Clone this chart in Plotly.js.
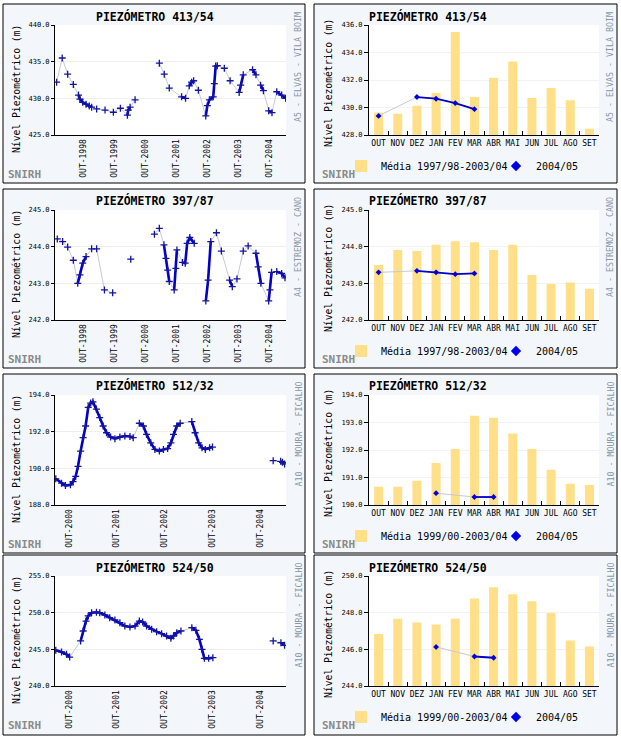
<!DOCTYPE html>
<html><head><meta charset="utf-8">
<script src="https://cdn.plot.ly/plotly-3.0.1.min.js"></script>
<style>body{margin:0;background:#fff}#chart{width:621px;height:737px}</style>
</head><body><div id="chart"></div>
<script>
// ---------------- DATA ----------------
const months = ['OUT','NOV','DEZ','JAN','FEV','MAR','ABR','MAI','JUN','JUL','AGO','SET'];

// Panel 1: PIEZÓMETRO 413/54 (A5 - ELVAS - VILA BOIM)
const p1Title = 'PIEZÓMETRO 413/54';
const p1Site = 'A5 - ELVAS - VILA BOIM';
const p1Years = [1998,1999,2000,2001,2002,2003,2004];
const p1Dates = ['1997-11-20','1998-01-25','1998-03-30','1998-06-05','1998-08-05','1998-08-22','1998-09-24','1998-11-02','1998-12-10','1999-01-07','1999-03-07','1999-06-14','1999-09-20','1999-12-12','2000-03-03','2000-03-14','2000-04-04','2000-06-02','2001-03-15','2001-05-12','2001-07-10','2001-12-02','2002-01-18','2002-03-03','2002-03-31','2002-04-23','2002-06-18','2002-09-13','2002-10-02','2002-10-26','2002-12-10','2002-12-23','2003-01-08','2003-01-27','2003-04-20','2003-06-27','2003-10-12','2003-10-30','2003-11-29','2004-03-18','2004-04-27','2004-06-21','2004-07-24','2004-09-24','2004-11-02','2004-12-28','2005-02-24','2005-04-12'];
const p1Levels = [432.2,435.5,433.3,431.9,430.45,429.9,429.45,429.2,428.95,428.8,428.55,428.4,428.1,428.65,427.7,428.4,428.8,429.8,434.8,433.3,431.4,430.2,430.0,431.7,432.2,432.4,431.1,427.6,429.0,429.8,430.2,432.0,434.4,434.45,434.1,432.4,430.8,431.8,433.2,433.9,433.2,431.8,431.05,428.3,428.05,430.9,430.45,430.0];
// link to previous record: 'd' continuous record, 's' sparse reading, '' gap
const p1Links = ['','s','s','s','s','d','d','d','d','d','s','s','s','s','s','d','d','s','','s','s','s','d','s','d','d','s','s','d','d','d','d','d','d','s','s','s','d','d','s','d','s','d','s','d','s','d','d'];

// Panel 2: PIEZÓMETRO 397/87 (A4 - ESTREMOZ - CANO)
const p2Title = 'PIEZÓMETRO 397/87';
const p2Site = 'A4 - ESTREMOZ - CANO';
const p2Years = [1998,1999,2000,2001,2002,2003,2004];
const p2Dates = ['1997-11-28','1998-01-30','1998-03-30','1998-06-05','1998-07-27','1998-08-22','1998-09-24','1998-11-02','1999-01-07','1999-03-07','1999-06-07','1999-09-12','2000-04-12','2001-01-16','2001-03-15','2001-05-08','2001-06-01','2001-06-21','2001-07-10','2001-09-06','2001-09-26','2001-10-08','2001-12-13','2002-01-14','2002-02-06','2002-03-09','2002-04-30','2002-09-14','2002-10-11','2002-11-11','2003-01-17','2003-03-16','2003-06-21','2003-07-23','2003-09-16','2003-11-29','2004-01-26','2004-04-27','2004-05-23','2004-06-24','2004-09-24','2004-10-09','2004-10-28','2004-12-28','2005-02-24','2005-04-04'];
const p2Levels = [244.21,244.14,243.99,243.63,243.0,243.23,243.55,243.73,243.94,243.94,242.82,242.74,243.66,244.34,244.5,244.05,243.68,243.36,243.05,242.82,243.41,243.91,243.57,243.55,244.09,244.25,244.09,242.52,243.09,244.14,244.38,243.88,243.09,242.91,243.12,243.88,244.02,243.82,243.45,243.0,242.52,242.82,243.3,243.32,243.27,243.15];
const p2Links = ['','s','s','s','s','d','d','d','s','s','s','s','','','s','s','d','d','d','s','d','d','s','d','d','d','d','','d','d','s','s','s','d','s','s','s','s','d','d','s','d','d','s','d','d'];

// Panel 3: PIEZÓMETRO 512/32 (A10 - MOURA - FICALHO)
const p3Title = 'PIEZÓMETRO 512/32';
const p3Site = 'A10 - MOURA - FICALHO';
const p3Years = [2000,2001,2002,2003,2004];
const p3Dates = ['2000-06-21','2000-08-04','2000-09-03','2000-10-11','2000-10-31','2000-11-20','2000-12-08','2000-12-28','2001-01-16','2001-02-04','2001-02-24','2001-03-15','2001-04-01','2001-04-28','2001-05-23','2001-06-18','2001-07-14','2001-08-14','2001-09-16','2001-10-24','2001-12-01','2002-01-09','2002-02-03','2002-03-22','2002-04-22','2002-05-16','2002-06-17','2002-07-19','2002-08-22','2002-09-22','2002-10-24','2002-11-18','2002-12-08','2003-01-02','2003-01-28','2003-04-27','2003-05-22','2003-06-18','2003-07-14','2003-08-08','2003-09-10','2003-10-02','2005-01-08','2005-03-06','2005-03-20','2005-04-05'];
const p3Levels = [189.43,189.19,189.06,189.10,189.28,189.56,190.11,190.94,191.67,192.31,193.32,193.56,193.63,193.23,192.77,192.31,191.94,191.71,191.62,191.71,191.76,191.74,191.67,192.46,192.31,191.85,191.39,191.03,190.94,191.03,191.08,191.39,191.85,192.31,192.46,192.55,191.94,191.39,191.12,191.03,191.12,191.16,190.42,190.38,190.33,190.24];
const p3Links = ['','d','d','d','d','d','d','d','d','d','d','d','d','d','d','d','d','d','d','d','d','d','d','s','d','d','d','d','d','d','d','d','d','d','d','s','d','d','d','d','d','d','','s','d','d'];

// Panel 4: PIEZÓMETRO 524/50 (A10 - MOURA - FICALHO)
const p4Title = 'PIEZÓMETRO 524/50';
const p4Site = 'A10 - MOURA - FICALHO';
const p4Years = [2000,2001,2002,2003,2004];
const p4Dates = ['2000-06-21','2000-08-04','2000-09-11','2000-10-05','2000-12-28','2001-01-16','2001-02-07','2001-02-24','2001-03-22','2001-04-28','2001-05-23','2001-07-01','2001-08-07','2001-09-16','2001-10-24','2001-12-01','2002-01-09','2002-02-17','2002-03-22','2002-04-16','2002-05-16','2002-06-24','2002-08-01','2002-09-08','2002-10-16','2002-11-18','2002-12-08','2003-01-02','2003-02-03','2003-04-27','2003-05-28','2003-06-24','2003-07-14','2003-08-01','2003-09-03','2003-10-05','2005-01-08','2005-03-08','2005-04-05'];
const p4Levels = [244.86,244.64,244.32,243.95,246.14,247.5,248.86,249.55,250.0,250.05,250.0,249.68,249.32,249.0,248.64,248.18,248.05,248.18,248.86,248.73,248.18,247.73,247.41,247.14,246.82,246.5,246.82,247.27,247.5,247.95,247.59,246.36,245.0,243.77,243.77,243.86,246.14,245.9,245.55];
const p4Links = ['','d','d','d','s','d','d','d','d','d','d','d','d','d','d','d','d','d','d','d','d','d','d','d','d','d','d','d','d','s','d','d','d','d','d','d','','s','d'];

// Monthly means (bars) and current year 2004/05
const r1MeanName = 'Média 1997/98-2003/04';
const r1Mean = [429.64,429.54,430.13,431.06,435.5,430.76,432.16,433.35,430.69,431.42,430.52,428.46];
const r1Months = ['OUT','DEZ','JAN','FEV','MAR'];
const r1Cur = [429.39,430.76,430.64,430.32,429.88];
const r1Links = ['','s','d','d','d'];

const r2MeanName = 'Média 1997/98-2003/04';
const r2Mean = [243.5,243.91,243.88,244.05,244.15,244.12,243.91,244.05,243.23,242.98,243.02,242.85];
const r2Months = ['OUT','DEZ','JAN','FEV','MAR'];
const r2Cur = [243.3,243.34,243.3,243.25,243.27];
const r2Links = ['','s','d','d','d'];

const r3MeanName = 'Média 1999/00-2003/04';
const r3Mean = [190.66,190.66,190.88,191.53,192.04,193.25,193.17,192.6,192.04,191.28,190.77,190.73];
const r3Months = ['JAN','MAR','ABR'];
const r3Cur = [190.43,190.29,190.29];
const r3Links = ['','s','d'];

const r4MeanName = 'Média 1999/00-2003/04';
const r4Mean = [246.84,247.67,247.47,247.36,247.67,248.77,249.38,249.01,248.62,247.98,246.48,246.15];
const r4Months = ['JAN','MAR','ABR'];
const r4Cur = [246.13,245.61,245.54];
const r4Links = ['','s','d'];

const curName = '2004/05';
const yTitle = 'Nível Piezométrico (m)';

// ---------------- BUILD ----------------
const FONT = 'DejaVu Sans Mono';
const W = 621, H = 737;
const X = p => p / W, Y = p => 1 - p / H;
const tops = [4, 189, 374, 555], bottoms = [183, 368, 553, 735];

const left = [
  {title:p1Title, site:p1Site, years:p1Years, d:p1Dates, v:p1Levels, l:p1Links, yr:[425,440], dt:5, xr:['1997-11-01','2005-04-16']},
  {title:p2Title, site:p2Site, years:p2Years, d:p2Dates, v:p2Levels, l:p2Links, yr:[242,245], dt:1, xr:['1997-11-01','2005-04-16']},
  {title:p3Title, site:p3Site, years:p3Years, d:p3Dates, v:p3Levels, l:p3Links, yr:[188,194], dt:2, xr:['2000-06-15','2005-04-16']},
  {title:p4Title, site:p4Site, years:p4Years, d:p4Dates, v:p4Levels, l:p4Links, yr:[240,255], dt:5, xr:['2000-06-15','2005-04-16']}
];
const right = [
  {title:p1Title, site:p1Site, meanName:r1MeanName, mean:r1Mean, m:r1Months, c:r1Cur, l:r1Links, yr:[428,436], dt:2},
  {title:p2Title, site:p2Site, meanName:r2MeanName, mean:r2Mean, m:r2Months, c:r2Cur, l:r2Links, yr:[242,245], dt:1},
  {title:p3Title, site:p3Site, meanName:r3MeanName, mean:r3Mean, m:r3Months, c:r3Cur, l:r3Links, yr:[190,194], dt:1},
  {title:p4Title, site:p4Site, meanName:r4MeanName, mean:r4Mean, m:r4Months, c:r4Cur, l:r4Links, yr:[244,250], dt:2}
];

function recordTraces(xs, ys, links, xa, ya, opts) {
  const gx = [], gy = [], bx = [], by = [];
  let lastBlue = -2;
  for (let i = 0; i < xs.length; i++) {
    if (i > 0 && links[i] === '') { gx.push(null); gy.push(null); }
    gx.push(xs[i]); gy.push(ys[i]);
    if (links[i] === 'd') {
      if (lastBlue !== i - 1) {
        if (bx.length) { bx.push(null); by.push(null); }
        bx.push(xs[i-1]); by.push(ys[i-1]);
      }
      bx.push(xs[i]); by.push(ys[i]); lastBlue = i;
    }
  }
  return [
    {type:'scatter', mode:'lines', x:gx, y:gy, xaxis:xa, yaxis:ya, line:{color:'#C6CAD6', width:1}, showlegend:false},
    {type:'scatter', mode:'lines', x:bx, y:by, xaxis:xa, yaxis:ya, line:{color:'#0000CC', width:opts.lw}, showlegend:false},
    {type:'scatter', mode:'markers', x:xs, y:ys, xaxis:xa, yaxis:ya, showlegend:false, marker:opts.marker}
  ];
}

const traces = [];
const layout = {
  width: W, height: H, margin:{l:0,r:0,t:0,b:0,autoexpand:false},
  paper_bgcolor:'#FFFFFF', plot_bgcolor:'#FFFFFF',
  hovermode:false, shapes:[], annotations:[]
};
const axisFontSmall = {family:FONT, size:7, color:'#000'};

for (let r = 0; r < 4; r++) {
  const top = tops[r], bot = bottoms[r];
  const pTop = top + 21, pBot = top + 131;
  // ---- left panel ----
  const L = left[r];
  const li = 2*r + 1, ri = 2*r + 2;
  const lx = 'x' + li, ly = 'y' + li, rx = 'x' + ri, ry = 'y' + ri;
  layout['xaxis' + li] = {
    domain:[X(55), X(286)], anchor:ly, type:'date', range:L.xr,
    tickmode:'array', tickvals:L.years.map(y => y + '-10-01'), ticktext:L.years.map(y => 'OUT-' + y),
    tickangle:-90, tickfont:{family:FONT, size:8, color:'#000'}, ticks:'',
    showline:true, linecolor:'#000', linewidth:1, showgrid:false, zeroline:false
  };
  layout['yaxis' + li] = {
    domain:[Y(pBot), Y(pTop)], anchor:lx, range:L.yr, dtick:L.dt, tick0:L.yr[0], tickformat:'.1f',
    ticks:'outside', ticklen:3, tickcolor:'#000', tickfont:axisFontSmall,
    showline:true, linecolor:'#000', linewidth:1, gridcolor:'#EFEFEF', zeroline:false
  };
  traces.push(...recordTraces(L.d, L.v, L.l, lx, ly, {lw:2.6,
    marker:{symbol:'cross-thin', size:5, color:'#1414A0', line:{width:1.3, color:'#1414A0'}}}));

  // ---- right panel ----
  const R = right[r];
  const legId = r === 0 ? 'legend' : 'legend' + (r + 1);
  layout['xaxis' + ri] = {
    domain:[X(369), X(599)], anchor:ry, type:'category', categoryorder:'array', categoryarray:months,
    range:[-0.5, 11.5], tickson:'boundaries', ticks:'inside', ticklen:4, tickcolor:'#000', tickangle:0,
    tickfont:{family:FONT, size:8, color:'#000'},
    showline:true, linecolor:'#000', linewidth:1, showgrid:false, zeroline:false
  };
  layout['yaxis' + ri] = {
    domain:[Y(pBot), Y(pTop)], anchor:rx, range:R.yr, dtick:R.dt, tick0:R.yr[0], tickformat:'.1f',
    ticks:'outside', ticklen:4, tickcolor:'#000', tickfont:axisFontSmall,
    showline:true, linecolor:'#000', linewidth:1, gridcolor:'#F2F2F2', zeroline:false
  };
  traces.push({type:'bar', x:months, y:R.mean, xaxis:rx, yaxis:ry, width:0.47,
    marker:{color:'#FFDF88', line:{width:0}}, name:R.meanName, legend:legId, showlegend:true, legendwidth:110});
  traces.push(...recordTraces(R.m, R.c, R.l, rx, ry, {lw:1.8,
    marker:{symbol:'diamond', size:4.5, color:'#0000DD'}}));
  // legend entry for the 2004/05 series
  traces.push({type:'scatter', mode:'markers', x:[null], y:[null], xaxis:rx, yaxis:ry, name:curName,
    legend:legId, showlegend:true, marker:{symbol:'diamond', size:8, color:'#0000EE'}});
  layout[legId] = {
    orientation:'h', x:X(341), xanchor:'left', y:Y(top + 162), yanchor:'middle',
    font:{family:FONT, size:10, color:'#000'}, bgcolor:'rgba(0,0,0,0)', borderwidth:0,
    itemsizing:'trace', traceorder:'normal', itemclick:false, itemdoubleclick:false
  };

  // ---- panel frames & plot backgrounds ----
  [[3,305],[314,617]].forEach(([a,b]) => {
    layout.shapes.push({type:'rect', xref:'paper', yref:'paper', x0:X(a), x1:X(b), y0:Y(bot), y1:Y(top),
      fillcolor:'#F3F7FB', line:{color:'#000', width:1}, layer:'below'});
  });
  [[lx,ly],[rx,ry]].forEach(([xa,ya]) => {
    layout.shapes.push({type:'rect', xref:xa + ' domain', yref:ya + ' domain', x0:0, x1:1, y0:0, y1:1,
      fillcolor:'#FFFFFF', line:{width:0}, layer:'below'});
  });

  // ---- texts ----
  const ann = layout.annotations;
  ann.push({text:'<b>' + L.title + '</b>', xref:'paper', yref:'paper', x:X(155), y:Y(top + 12), showarrow:false,
    font:{family:FONT, size:11.5, color:'#000'}, xanchor:'center', yanchor:'middle'});
  ann.push({text:'<b>' + R.title + '</b>', xref:'paper', yref:'paper', x:X(428), y:Y(top + 12), showarrow:false,
    font:{family:FONT, size:11.5, color:'#000'}, xanchor:'center', yanchor:'middle'});
  ann.push({text:yTitle, xref:'paper', yref:'paper', x:X(16), y:Y(top + 85), showarrow:false, textangle:-90,
    font:{family:FONT, size:9.7, color:'#000'}, xanchor:'center', yanchor:'middle'});
  ann.push({text:yTitle, xref:'paper', yref:'paper', x:X(328), y:Y(top + 79), showarrow:false, textangle:-90,
    font:{family:FONT, size:9.7, color:'#000'}, xanchor:'center', yanchor:'middle'});
  ann.push({text:L.site, xref:'paper', yref:'paper', x:X(298), y:Y(top + 6), showarrow:false, textangle:-90,
    font:{family:FONT, size:8.3, color:'#8896A8'}, xanchor:'center', yanchor:'top'});
  ann.push({text:R.site, xref:'paper', yref:'paper', x:X(610), y:Y(top + 6), showarrow:false, textangle:-90,
    font:{family:FONT, size:8.3, color:'#8896A8'}, xanchor:'center', yanchor:'top'});
  ann.push({text:'<b>SNIRH</b>', xref:'paper', yref:'paper', x:X(6), y:Y(top + 170), showarrow:false,
    font:{family:FONT, size:11, color:'#8A8A8A'}, xanchor:'left', yanchor:'middle'});
  ann.push({text:'<b>SNIRH</b>', xref:'paper', yref:'paper', x:X(320), y:Y(top + 170), showarrow:false,
    font:{family:FONT, size:11, color:'#8A8A8A'}, xanchor:'left', yanchor:'middle'});
}

Plotly.newPlot('chart', traces, layout, {staticPlot:true, displayModeBar:false});
</script>
</body></html>
